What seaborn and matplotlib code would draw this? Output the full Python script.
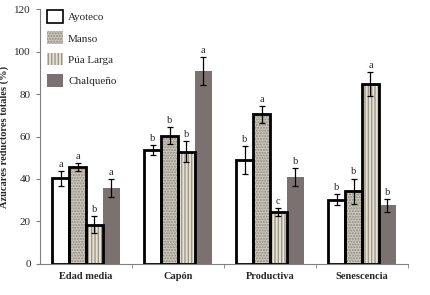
import numpy as np
import pandas as pd
import matplotlib
matplotlib.use("Agg")
import matplotlib.pyplot as plt
import seaborn as sns
from matplotlib.patches import Rectangle, Patch

# Datos
etapas = ["Edad media", "Capón", "Productiva", "Senescencia"]
variedades = ["Ayoteco", "Manso", "Púa Larga", "Chalqueño"]

ayoteco = [40.3, 53.7, 49.0, 30.3]
manso = [45.7, 60.3, 70.5, 34.2]
pua_larga = [18.3, 52.9, 24.3, 84.7]
chalqueno = [35.8, 91.0, 41.0, 27.6]

err_ayoteco = [3.6, 2.5, 6.5, 2.6]
err_manso = [1.8, 4.0, 4.0, 6.0]
err_pua = [4.0, 4.8, 2.0, 5.7]
err_chalqueno = [4.3, 6.6, 4.3, 3.0]

letras_ayoteco = ["a", "b", "b", "b"]
letras_manso = ["a", "b", "a", "b"]
letras_pua = ["b", "b", "c", "a"]
letras_chalqueno = ["a", "a", "b", "b"]

valores = [ayoteco, manso, pua_larga, chalqueno]
errores = [err_ayoteco, err_manso, err_pua, err_chalqueno]
letras = [letras_ayoteco, letras_manso, letras_pua, letras_chalqueno]

df = pd.DataFrame({
    "etapa": np.tile(etapas, len(variedades)),
    "variedad": np.repeat(variedades, len(etapas)),
    "valor": np.concatenate(valores),
})

sns.set_style("white")
plt.rcParams["font.family"] = ["Liberation Serif", "DejaVu Serif"]

fills = ["white", "#cbc7bb", "#e6e2d4", "#7b7171"]
hatches = [None, "......", "|||||", None]
hatch_col = ["black", "#8f8a80", "#9c968a", "#7b7171"]

fig = plt.figure(figsize=(4.3, 2.95), dpi=100)
ax = fig.add_axes([0.093, 0.106, 0.856, 0.862])

sns.barplot(data=df, x="etapa", y="valor", hue="variedad", order=etapas,
            hue_order=variedades, palette=fills, width=0.73, errorbar=None,
            legend=False, ax=ax)

# colores, tramas, bordes, barras de error y letras
bar_conts = list(ax.containers)
for i, cont in enumerate(bar_conts):
    for j, bar in enumerate(cont):
        bar.set_facecolor(fills[i])
        bar.set_linewidth(0)
        if hatches[i]:
            bar.set_hatch(hatches[i])
            bar.set_edgecolor(hatch_col[i])
        else:
            bar.set_edgecolor("none")
        x0, y0 = bar.get_x(), bar.get_y()
        w, h = bar.get_width(), bar.get_height()
        if i < 3:
            ax.add_patch(Rectangle((x0, y0), w, h, fill=False,
                                   edgecolor="black", linewidth=2, zorder=3))
        xc = x0 + w / 2
        e = errores[i][j]
        ax.errorbar(xc, h, yerr=e, fmt="none", ecolor="black",
                    elinewidth=0.9, capsize=2, capthick=0.9, zorder=4)
        ax.text(xc, h + e + 1.0, letras[i][j], ha="center", va="bottom",
                fontsize=7.5)

ax.set_ylim(0, 120)
ax.set_xlim(-0.5, 3.5)
ax.set_yticks(np.arange(0, 121, 20))
ax.set_xticks(range(4))
ax.set_xticklabels(etapas, fontweight="bold", fontsize=7.5)
ax.set_xticks([0.5, 1.5, 2.5, 3.5], minor=True)
ax.tick_params(axis="x", which="major", length=0, pad=6)
ax.tick_params(axis="x", which="minor", length=3, direction="out",
               color="#808080", bottom=True)
ax.tick_params(axis="y", labelsize=8, length=3, direction="out",
               color="#808080", left=True)
ax.set_xlabel("")
ax.set_ylabel("Azúcares reductores totales (%)", fontweight="bold",
              fontsize=7.5, labelpad=4)
sns.despine(ax=ax)
for s in ["left", "bottom"]:
    ax.spines[s].set_color("#808080")
    ax.spines[s].set_linewidth(0.8)

handles = [
    Patch(facecolor="white", edgecolor="black", linewidth=1.2),
    Patch(facecolor=fills[1], hatch=hatches[1], edgecolor=hatch_col[1], linewidth=0),
    Patch(facecolor=fills[2], hatch=hatches[2], edgecolor=hatch_col[2], linewidth=0),
    Patch(facecolor=fills[3], edgecolor="none"),
]
ax.legend(handles, variedades, loc="upper left", bbox_to_anchor=(-0.008, 1.036),
          frameon=False, fontsize=8, handlelength=1.4, handleheight=1.4,
          labelspacing=0.75, handletextpad=0.5)

fig.savefig("out.png", dpi=100)
